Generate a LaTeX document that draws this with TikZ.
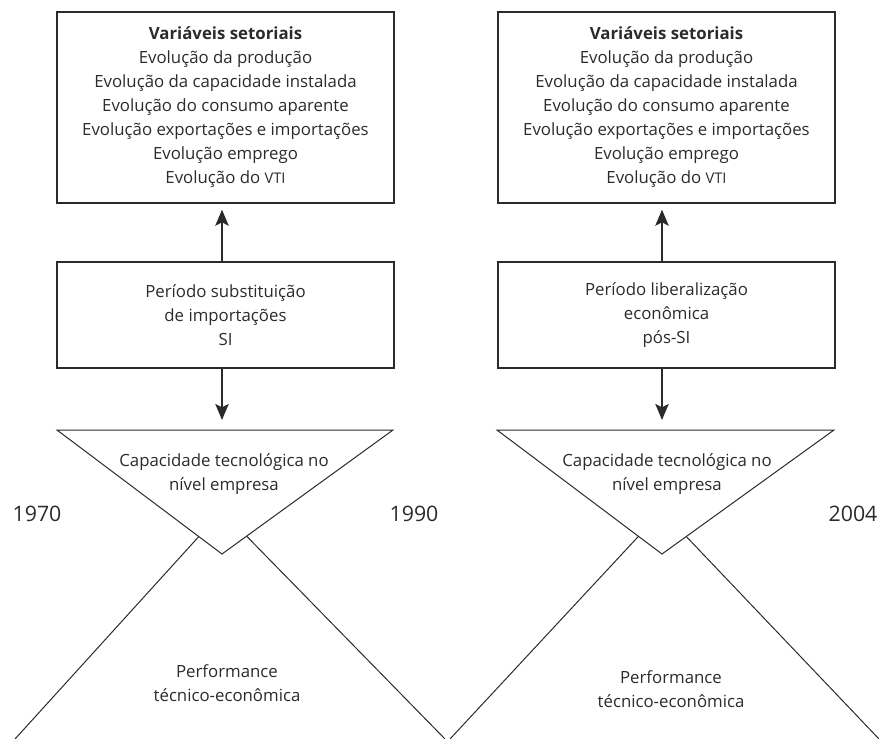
\documentclass[tikz,border=0pt]{standalone}
\usepackage{fontspec}
\setmainfont{Open Sans}
\usetikzlibrary{arrows.meta}
\definecolor{ink}{HTML}{2B2B2B}

\begin{document}
\begin{tikzpicture}[x=0.75pt,y=-0.75pt,
    box node/.style={draw=ink,line width=1pt,minimum width=252.75pt,align=center,text=ink,
      font=\fontsize{12.6}{18}\selectfont},
    plain node/.style={align=center,text=ink,font=\fontsize{12.6}{18}\selectfont},
    year node/.style={text=ink,font=\fontsize{16}{18}\selectfont},
    flow/.style={-{Stealth[length=12pt,width=10pt,inset=2.5pt]},draw=ink,line width=1.5pt},
    thin line/.style={draw=ink,line width=0.75pt}]

  \useasboundingbox (0,0) rectangle (879,739);

  % left column: 1970 -- 1990
  \node[box node,minimum height=143.25pt] (set1) at (225.5,107.5)
    {\textbf{Variáveis setoriais}\\Evolução da produção\\Evolução da capacidade instalada\\
     Evolução do consumo aparente\\Evolução exportações e importações\\Evolução emprego\\
     Evolução do {\fontsize{11}{18}\selectfont VTI}};
  \node[box node,minimum height=79.5pt] (per1) at (225.5,315)
    {Período substituição\\de importações\\SI};

  \coordinate (top1) at (222,430);
  \coordinate (x1) at (222,511);
  \coordinate (xa1) at (15,739);
  \coordinate (xb1) at (445,739);

  % right column: 1990 -- 2004
  \node[box node,minimum height=143.25pt] (set2) at (666.5,107.5)
    {\textbf{Variáveis setoriais}\\Evolução da produção\\Evolução da capacidade instalada\\
     Evolução do consumo aparente\\Evolução exportações e importações\\Evolução emprego\\
     Evolução do {\fontsize{11}{18}\selectfont VTI}};
  \node[box node,minimum height=79.5pt] (per2) at (666.5,315)
    {Período liberalização\\econômica\\pós-SI};

  \coordinate (top2) at (662,430);
  \coordinate (x2) at (662,511);
  \coordinate (xa2) at (450,739);
  \coordinate (xb2) at (879,739);

  % crossing lines, then the triangles over them
  \draw[thin line] (xa1) -- (x1) -- (xb1);
  \draw[thin line] (xa2) -- (x2) -- (xb2);
  \draw[thin line,fill=white] (57,430) -- (393,430) -- (222,554) -- cycle;
  \draw[thin line,fill=white] (497,430) -- (834,430) -- (662,554) -- cycle;

  \node[plain node] (cap1) at (224,474) {Capacidade tecnológica no\\nível empresa};
  \node[plain node] (cap2) at (667,474) {Capacidade tecnológica no\\nível empresa};
  \node[plain node] (perf1) at (227,683) {Performance\\técnico-econômica};
  \node[plain node] (perf2) at (671,689) {Performance\\técnico-econômica};

  \node[year node] (y1970) at (37,514) {1970};
  \node[year node] (y1990) at (414,514) {1990};
  \node[year node] (y2004) at (853,514) {2004};

  \path (per1.north -| top1) edge[flow,shorten >=4.5pt] (set1.south -| top1)
        (per1.south -| top1) edge[flow,shorten >=7.5pt] (top1)
        (per2.north -| top2) edge[flow,shorten >=4.5pt] (set2.south -| top2)
        (per2.south -| top2) edge[flow,shorten >=7.5pt] (top2);

\end{tikzpicture}
\end{document}
